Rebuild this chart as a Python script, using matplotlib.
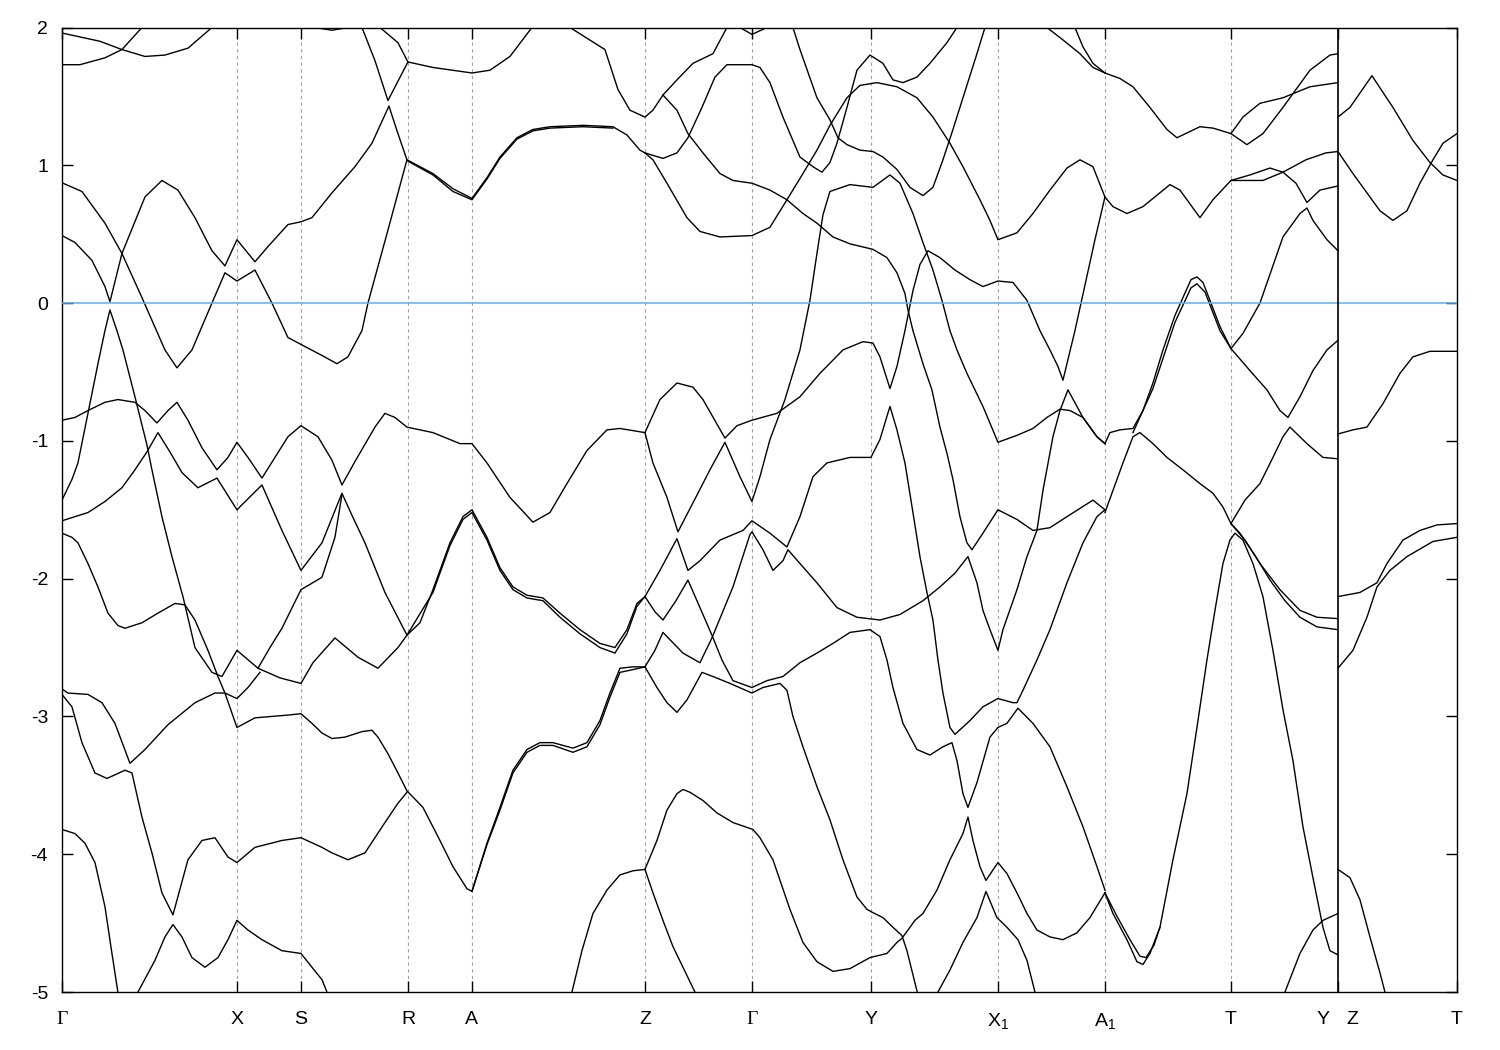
import matplotlib
matplotlib.use('Agg')
import matplotlib.pyplot as plt

plt.rcParams['font.family'] = ['Liberation Sans', 'DejaVu Sans']
plt.rcParams['mathtext.fontset'] = 'custom'
plt.rcParams['mathtext.rm'] = 'Liberation Sans'
plt.rcParams['mathtext.it'] = 'Liberation Sans'

# high-symmetry points along the k-path (arbitrary path length units)
kpoints = [0.0, 1.75, 2.39, 3.46, 4.10, 5.83, 6.90, 8.09, 9.36, 10.43, 11.69, 12.76, 13.95]
klabels = ['Γ', 'X', 'S', 'R', 'A', 'Z', 'Γ', 'Y', 'X$_1$', 'A$_1$', 'T', '', 'T']
k_break = 12.76          # Y | Z discontinuity
e_fermi = 0.0
e_range = (-5, 2)

# bands as (k, E) pairs, E in eV
band_01 = [(0, 1.96), (0.38, 1.90), (0.60, 1.84), (0.83, 1.79), (1.03, 1.80), (1.26, 1.85), (1.50, 2.0)]
band_02 = [(0, 1.73), (0.18, 1.73), (0.43, 1.78), (0.60, 1.84), (0.80, 2.0)]
band_03 = [(0.01, 0.87), (0.20, 0.81), (0.43, 0.58), (0.60, 0.36), (0.80, 0.04), (1.03, -0.34), (1.15, -0.47),
           (1.30, -0.34), (1.50, 0.0), (1.63, 0.22), (1.75, 0.16), (1.93, 0.24), (2.10, 0.0), (2.26, -0.25),
           (2.39, -0.30), (2.60, -0.38), (2.75, -0.44), (2.86, -0.39), (3.00, -0.20), (3.06, 0.0), (3.26, 0.53),
           (3.45, 1.04), (3.71, 0.94), (3.91, 0.83), (4.10, 0.76), (4.25, 0.91), (4.38, 1.06), (4.55, 1.20),
           (4.71, 1.26), (4.88, 1.28), (5.21, 1.29), (5.51, 1.28), (5.65, 1.22), (5.78, 1.11), (5.83, 1.09),
           (6.01, 1.05), (6.15, 1.09), (6.26, 1.20), (6.40, 1.42), (6.53, 1.64), (6.65, 1.73), (6.90, 1.73),
           (6.98, 1.71), (7.08, 1.60), (7.21, 1.35), (7.38, 1.06), (7.51, 0.99), (7.60, 0.95), (7.68, 1.02),
           (7.75, 1.16), (7.85, 1.42), (7.95, 1.69), (8.08, 1.80), (8.21, 1.74), (8.31, 1.62), (8.41, 1.60),
           (8.55, 1.64), (8.68, 1.74), (8.85, 1.89), (8.95, 2.0)]
band_04 = [(0, 0.49), (0.13, 0.44), (0.30, 0.31), (0.43, 0.12), (0.48, 0.01), (0.60, 0.36), (0.83, 0.77),
           (1.00, 0.89), (1.16, 0.82), (1.33, 0.62), (1.50, 0.38), (1.63, 0.27), (1.75, 0.46), (1.93, 0.30),
           (2.06, 0.41), (2.26, 0.57), (2.39, 0.59), (2.50, 0.62), (2.70, 0.80), (2.93, 0.99), (3.10, 1.16),
           (3.27, 1.43), (3.36, 1.23), (3.45, 1.04)]
band_05 = [(3.00, 2.0), (3.13, 1.76), (3.26, 1.47), (3.46, 1.75), (3.71, 1.71), (4.10, 1.67), (4.28, 1.69),
           (4.48, 1.79), (4.70, 2.0)]
band_06 = [(3.18, 2.0), (3.36, 1.89), (3.46, 1.75)]
band_07 = [(2.53, 2.0), (2.70, 1.98), (2.86, 2.0)]
band_08 = [(6.78, 2.0), (6.90, 1.95), (7.05, 2.0)]
band_09 = [(0, -1.43), (0.10, -1.28), (0.16, -1.16), (0.26, -0.80), (0.36, -0.44), (0.43, -0.20), (0.48, -0.05),
           (0.55, -0.20), (0.61, -0.34), (0.73, -0.68), (0.85, -1.03), (0.90, -1.21), (1.00, -1.55), (1.10, -1.84),
           (1.21, -2.13), (1.33, -2.50), (1.50, -2.68), (1.60, -2.71), (1.75, -2.52), (1.96, -2.65), (2.18, -2.72),
           (2.39, -2.76), (2.51, -2.61), (2.73, -2.43), (2.96, -2.57), (3.16, -2.65), (3.36, -2.50), (3.45, -2.41),
           (3.58, -2.32), (3.71, -2.08), (3.88, -1.74), (4.01, -1.55), (4.10, -1.50), (4.25, -1.70), (4.38, -1.92),
           (4.51, -2.06), (4.65, -2.12), (4.81, -2.14), (4.98, -2.25), (5.18, -2.37), (5.38, -2.47), (5.53, -2.50),
           (5.65, -2.37), (5.75, -2.18), (5.83, -2.13)]
band_10 = [(0, -0.85), (0.13, -0.83), (0.26, -0.78), (0.43, -0.72), (0.56, -0.70), (0.73, -0.72), (0.83, -0.78),
           (0.95, -0.87), (1.06, -0.78), (1.15, -0.72), (1.26, -0.85), (1.40, -1.05), (1.55, -1.21), (1.66, -1.12),
           (1.75, -1.01), (1.86, -1.12), (2.00, -1.27), (2.13, -1.12), (2.26, -0.97), (2.39, -0.89), (2.56, -0.97),
           (2.70, -1.14), (2.80, -1.32), (2.93, -1.15), (3.13, -0.90), (3.23, -0.80), (3.33, -0.83), (3.45, -0.90),
           (3.71, -0.94), (3.98, -1.02), (4.10, -1.02), (4.25, -1.16), (4.48, -1.41), (4.71, -1.59), (4.88, -1.52),
           (5.05, -1.31), (5.25, -1.07), (5.45, -0.92), (5.58, -0.91), (5.83, -0.94)]
band_11 = [(0, -1.58), (0.26, -1.52), (0.43, -1.44), (0.60, -1.34), (0.73, -1.21), (0.85, -1.08), (0.96, -0.94),
           (1.08, -1.08), (1.20, -1.23), (1.36, -1.34), (1.55, -1.27), (1.75, -1.50), (2.00, -1.32), (2.20, -1.65),
           (2.39, -1.94), (2.60, -1.74), (2.80, -1.38), (2.90, -1.54), (3.03, -1.74), (3.23, -2.10), (3.45, -2.41)]
band_12 = [(1.96, -2.65), (2.08, -2.50), (2.20, -2.36), (2.39, -2.08), (2.60, -1.99), (2.73, -1.70), (2.80, -1.39)]
band_13 = [(0, -1.67), (0.10, -1.70), (0.16, -1.74), (0.26, -1.89), (0.36, -2.06), (0.46, -2.25), (0.56, -2.34),
           (0.63, -2.36), (0.80, -2.32), (0.96, -2.25), (1.13, -2.18), (1.23, -2.19), (1.33, -2.30), (1.46, -2.52),
           (1.56, -2.71), (1.63, -2.83), (1.75, -3.08), (1.93, -3.01), (2.26, -2.99), (2.39, -2.98), (2.50, -3.05),
           (2.60, -3.12), (2.70, -3.16), (2.83, -3.15), (3.00, -3.11), (3.10, -3.10), (3.16, -3.15), (3.26, -3.27),
           (3.36, -3.41), (3.45, -3.54), (3.61, -3.66), (3.78, -3.90), (3.91, -4.09), (4.05, -4.25), (4.10, -4.27),
           (4.25, -3.92), (4.38, -3.66), (4.51, -3.39), (4.65, -3.24), (4.78, -3.19), (4.91, -3.19), (5.11, -3.23),
           (5.25, -3.19), (5.38, -3.03), (5.48, -2.83), (5.58, -2.65), (5.71, -2.64), (5.83, -2.64)]
band_14 = [(0, -2.80), (0.06, -2.83), (0.26, -2.84), (0.40, -2.90), (0.53, -3.05), (0.68, -3.34), (0.83, -3.24),
           (1.06, -3.06), (1.33, -2.90), (1.53, -2.83), (1.63, -2.83), (1.75, -2.87), (1.86, -2.79), (1.98, -2.68)]
band_15 = [(0, -2.84), (0.10, -2.93), (0.20, -3.19), (0.33, -3.41), (0.45, -3.45), (0.63, -3.39), (0.70, -3.41),
           (0.80, -3.73), (0.90, -3.99), (1.00, -4.28), (1.11, -4.44), (1.26, -4.04), (1.40, -3.90), (1.53, -3.88),
           (1.66, -4.02), (1.75, -4.06), (1.93, -3.95), (2.20, -3.90), (2.39, -3.88), (2.60, -3.95), (2.70, -3.99),
           (2.86, -4.04), (3.03, -3.99), (3.23, -3.77), (3.36, -3.63), (3.45, -3.55)]
band_16 = [(0, -3.82), (0.13, -3.85), (0.23, -3.92), (0.33, -4.06), (0.43, -4.38), (0.50, -4.72), (0.57, -5.05)]
band_17 = [(0.76, -5.0), (0.93, -4.77), (1.03, -4.60), (1.11, -4.51), (1.20, -4.60), (1.30, -4.75), (1.43, -4.82),
           (1.56, -4.75), (1.66, -4.62), (1.75, -4.48), (1.86, -4.55), (2.00, -4.62), (2.20, -4.70), (2.39, -4.72),
           (2.50, -4.82), (2.60, -4.91), (2.65, -5.0)]
band_18 = [(5.08, 2.0), (5.43, 1.84), (5.56, 1.55), (5.68, 1.40), (5.83, 1.35), (5.91, 1.40), (6.01, 1.51),
           (6.15, 1.62), (6.31, 1.74), (6.51, 1.81), (6.65, 2.0)]
band_19 = [(6.01, 1.51), (6.15, 1.40), (6.26, 1.23), (6.41, 1.09), (6.58, 0.94), (6.71, 0.89), (6.90, 0.87),
           (7.08, 0.82), (7.25, 0.75), (7.41, 0.65), (7.55, 0.58), (7.71, 0.48), (7.88, 0.43), (8.11, 0.39),
           (8.25, 0.33), (8.35, 0.22), (8.43, 0.07), (8.46, -0.05), (8.51, -0.20), (8.61, -0.44), (8.70, -0.63),
           (8.78, -0.90), (8.85, -1.09), (8.91, -1.28), (8.98, -1.55), (9.05, -1.74), (9.10, -1.79), (9.21, -1.67),
           (9.36, -1.50), (9.55, -1.57), (9.71, -1.65), (9.88, -1.63), (10.05, -1.55), (10.31, -1.43), (10.43, -1.50)]
band_20 = [(5.83, 1.09), (5.91, 1.04), (6.05, 0.87), (6.25, 0.62), (6.38, 0.52), (6.58, 0.48), (6.90, 0.49),
           (7.08, 0.55), (7.25, 0.75), (7.41, 0.94), (7.55, 1.11), (7.68, 1.29), (7.85, 1.49), (7.98, 1.58),
           (8.15, 1.60), (8.35, 1.57), (8.55, 1.49), (8.71, 1.35), (8.88, 1.16), (9.01, 0.99), (9.18, 0.75),
           (9.28, 0.60), (9.36, 0.46), (9.55, 0.51), (9.71, 0.65), (9.88, 0.82), (10.05, 0.98), (10.18, 1.04),
           (10.31, 0.99), (10.43, 0.77), (10.51, 0.70), (10.65, 0.65), (10.81, 0.70), (11.08, 0.86), (11.18, 0.82),
           (11.38, 0.62), (11.51, 0.75), (11.69, 0.89), (11.88, 0.93), (12.08, 0.98), (12.21, 0.95), (12.34, 0.87),
           (12.45, 0.73), (12.58, 0.82), (12.76, 0.85)]
band_21 = [(11.69, 0.89), (11.85, 0.89), (12.01, 0.89), (12.21, 0.95), (12.44, 1.04), (12.64, 1.09), (12.76, 1.10)]
band_22 = [(5.83, -0.94), (5.98, -0.70), (6.15, -0.58), (6.31, -0.61), (6.41, -0.70), (6.63, -0.98), (6.75, -0.89),
           (6.90, -0.85), (7.15, -0.80), (7.38, -0.68), (7.58, -0.51), (7.81, -0.34), (8.01, -0.28), (8.11, -0.29),
           (8.18, -0.39), (8.28, -0.62), (8.35, -0.46), (8.43, -0.20), (8.51, 0.09), (8.58, 0.28), (8.66, 0.38),
           (8.78, 0.33), (8.93, 0.24), (9.08, 0.17), (9.21, 0.12), (9.36, 0.16), (9.51, 0.15), (9.65, 0.02),
           (9.78, -0.20), (9.88, -0.34), (9.96, -0.46), (10.01, -0.56), (10.06, -0.41), (10.13, -0.20),
           (10.23, 0.13), (10.33, 0.46), (10.43, 0.77)]
band_23 = [(5.83, -0.94), (5.91, -1.16), (6.05, -1.41), (6.16, -1.66), (6.31, -1.45), (6.48, -1.21), (6.63, -1.01),
           (6.78, -1.26), (6.90, -1.44), (6.98, -1.26), (7.08, -0.99), (7.23, -0.70), (7.38, -0.34), (7.48, 0.02),
           (7.55, 0.36), (7.61, 0.64), (7.68, 0.81), (7.88, 0.86), (8.11, 0.84), (8.28, 0.93), (8.38, 0.87),
           (8.51, 0.65), (8.61, 0.44), (8.71, 0.24), (8.80, 0.02), (8.88, -0.20), (8.95, -0.34), (9.05, -0.51),
           (9.21, -0.75), (9.36, -1.01), (9.55, -0.96), (9.71, -0.91), (9.85, -0.83), (9.98, -0.77), (10.08, -0.78),
           (10.21, -0.83), (10.35, -0.97), (10.43, -1.02)]
band_24 = [(5.83, -2.13), (5.98, -1.94), (6.15, -1.71), (6.26, -1.94), (6.38, -1.87), (6.58, -1.72), (6.81, -1.65),
           (6.90, -1.58), (7.08, -1.67), (7.25, -1.77), (7.38, -1.55), (7.51, -1.26), (7.65, -1.16), (7.88, -1.12),
           (8.09, -1.12), (8.18, -0.99), (8.28, -0.75), (8.35, -0.92), (8.43, -1.16), (8.51, -1.52), (8.58, -1.84),
           (8.65, -2.10), (8.71, -2.30), (8.76, -2.59), (8.81, -2.83), (8.88, -3.08), (8.93, -3.13), (9.08, -3.03),
           (9.21, -2.93), (9.36, -2.87), (9.51, -2.90), (9.55, -2.90), (9.61, -2.81), (9.75, -2.59), (9.88, -2.37),
           (10.05, -2.03), (10.21, -1.74), (10.35, -1.55), (10.43, -1.50)]
band_25 = [(5.83, -2.64), (5.93, -2.52), (6.01, -2.39), (6.21, -2.54), (6.38, -2.61), (6.50, -2.43), (6.71, -2.06),
           (6.88, -1.68), (6.90, -1.66), (7.01, -1.79), (7.11, -1.94), (7.21, -1.87), (7.26, -1.79), (7.38, -1.89),
           (7.55, -2.03), (7.75, -2.21), (7.95, -2.28), (8.18, -2.30), (8.38, -2.26), (8.61, -2.16), (8.78, -2.06),
           (8.93, -1.96), (9.06, -1.84), (9.15, -2.03), (9.21, -2.23), (9.28, -2.37), (9.36, -2.52), (9.41, -2.37),
           (9.55, -2.08), (9.65, -1.84), (9.75, -1.65), (9.81, -1.36), (9.91, -0.97), (9.98, -0.78), (10.06, -0.63),
           (10.21, -0.83), (10.35, -0.97), (10.43, -1.02)]
band_26 = [(5.83, -2.13), (5.93, -2.24), (6.01, -2.30), (6.14, -2.16), (6.26, -2.01), (6.38, -2.21), (6.50, -2.41),
           (6.60, -2.59), (6.71, -2.74), (6.90, -2.79), (7.05, -2.74), (7.21, -2.71), (7.38, -2.61), (7.55, -2.54),
           (7.71, -2.47), (7.88, -2.39), (8.08, -2.37), (8.18, -2.42), (8.25, -2.59), (8.31, -2.79), (8.41, -3.05),
           (8.55, -3.24), (8.68, -3.28), (8.81, -3.22), (8.90, -3.19), (8.95, -3.32), (9.01, -3.56), (9.06, -3.66),
           (9.15, -3.48), (9.28, -3.15), (9.36, -3.08), (9.45, -3.05), (9.56, -2.94), (9.71, -3.05), (9.88, -3.22),
           (10.05, -3.51), (10.21, -3.80), (10.35, -4.09), (10.43, -4.26)]
band_27 = [(5.83, -2.64), (5.95, -2.79), (6.05, -2.90), (6.15, -2.97), (6.25, -2.88), (6.40, -2.68), (6.51, -2.71),
           (6.68, -2.76), (6.90, -2.83), (7.01, -2.79), (7.18, -2.76), (7.25, -2.81), (7.31, -3.00), (7.41, -3.22),
           (7.55, -3.51), (7.68, -3.75), (7.81, -4.04), (7.95, -4.31), (8.05, -4.40), (8.10, -4.42), (8.21, -4.46),
           (8.31, -4.53), (8.40, -4.59), (8.45, -4.70), (8.57, -5.05)]
band_28 = [(5.10, -5.0), (5.20, -4.70), (5.31, -4.43), (5.45, -4.26), (5.58, -4.15), (5.71, -4.12), (5.83, -4.11),
           (5.91, -4.28), (6.01, -4.48), (6.11, -4.67), (6.21, -4.82), (6.33, -5.0)]
band_29 = [(5.83, -4.11), (5.95, -3.90), (6.05, -3.68), (6.15, -3.56), (6.21, -3.53), (6.28, -3.55), (6.41, -3.61),
           (6.55, -3.70), (6.71, -3.77), (6.91, -3.82), (6.98, -3.88), (7.11, -4.04), (7.28, -4.40), (7.41, -4.64),
           (7.55, -4.78), (7.71, -4.85), (7.88, -4.83), (8.08, -4.75), (8.25, -4.72), (8.35, -4.64), (8.40, -4.61),
           (8.53, -4.48), (8.61, -4.43), (8.75, -4.26), (8.88, -4.04), (9.01, -3.85), (9.06, -3.73), (9.11, -3.90),
           (9.18, -4.09), (9.24, -4.19), (9.36, -4.06), (9.45, -4.14), (9.55, -4.28), (9.65, -4.43), (9.75, -4.55),
           (9.88, -4.60), (10.01, -4.62), (10.15, -4.57), (10.28, -4.46), (10.43, -4.28)]
band_30 = [(8.76, -5.0), (8.88, -4.84), (9.01, -4.64), (9.15, -4.46), (9.24, -4.27), (9.35, -4.46), (9.45, -4.53),
           (9.56, -4.62), (9.65, -4.77), (9.73, -5.0)]
band_31 = [(10.43, -4.28), (10.51, -4.43), (10.65, -4.62), (10.75, -4.78), (10.81, -4.80), (10.88, -4.72),
           (10.98, -4.53), (11.11, -4.04), (11.25, -3.56), (11.35, -3.08), (11.45, -2.59), (11.53, -2.23),
           (11.61, -1.89), (11.68, -1.72), (11.73, -1.67), (11.81, -1.72), (11.91, -1.89), (12.01, -2.13),
           (12.11, -2.52), (12.21, -2.95), (12.31, -3.32), (12.41, -3.80), (12.51, -4.17), (12.61, -4.53),
           (12.68, -4.70), (12.76, -4.73)]
band_32 = [(12.23, -5.0), (12.38, -4.72), (12.51, -4.55), (12.61, -4.48), (12.76, -4.43)]
band_33 = [(9.85, 2.0), (10.01, 1.91), (10.18, 1.81), (10.31, 1.71), (10.43, 1.67), (10.58, 1.63), (10.71, 1.57),
           (10.88, 1.42), (11.05, 1.26), (11.15, 1.20), (11.38, 1.28), (11.51, 1.27), (11.69, 1.23), (11.81, 1.35),
           (11.98, 1.45), (12.21, 1.49), (12.48, 1.57), (12.76, 1.60)]
band_34 = [(10.13, 2.0), (10.21, 1.86), (10.31, 1.74), (10.43, 1.67)]
band_35 = [(11.69, 1.23), (11.85, 1.15), (12.01, 1.23), (12.21, 1.42), (12.48, 1.69), (12.68, 1.80), (12.76, 1.81)]
band_36 = [(7.31, 2.0), (7.38, 1.84), (7.55, 1.49), (7.68, 1.33), (7.76, 1.20), (7.85, 1.15), (7.98, 1.11),
           (8.11, 1.10), (8.21, 1.06), (8.35, 0.97), (8.48, 0.84), (8.61, 0.78), (8.71, 0.84), (8.81, 1.04),
           (8.91, 1.26), (9.01, 1.49), (9.15, 1.81), (9.23, 2.0)]
band_37 = [(10.43, -1.52), (10.51, -1.36), (10.61, -1.16), (10.71, -0.97), (10.78, -0.94), (10.91, -1.02),
           (11.05, -1.12), (11.21, -1.21), (11.38, -1.31), (11.51, -1.38), (11.61, -1.48), (11.69, -1.60),
           (11.83, -1.72), (11.98, -1.89), (12.18, -2.08), (12.38, -2.23), (12.55, -2.28), (12.76, -2.29)]
band_38 = [(11.69, -1.60), (11.78, -1.67), (11.93, -1.83), (12.08, -2.01), (12.23, -2.16), (12.38, -2.28),
           (12.55, -2.35), (12.76, -2.37)]
band_39 = [(11.69, -1.60), (11.83, -1.43), (11.98, -1.31), (12.11, -1.12), (12.21, -0.97), (12.28, -0.90),
           (12.45, -1.02), (12.61, -1.12), (12.76, -1.13)]
band_40 = [(11.69, -0.33), (11.88, -0.49), (12.05, -0.63), (12.18, -0.78), (12.26, -0.83), (12.38, -0.68),
           (12.51, -0.49), (12.65, -0.34), (12.76, -0.27)]
band_41 = [(11.69, -0.33), (11.81, -0.22), (11.98, 0.0), (12.21, 0.48), (12.38, 0.65), (12.45, 0.69), (12.51, 0.60),
           (12.65, 0.46), (12.76, 0.38)]
band_42 = [(10.43, -1.02), (10.48, -0.94), (10.58, -0.92), (10.71, -0.91), (10.81, -0.78), (10.91, -0.58),
           (11.01, -0.34), (11.13, -0.09), (11.21, 0.04), (11.29, 0.17), (11.35, 0.19), (11.41, 0.15), (11.48, 0.02),
           (11.58, -0.17), (11.69, -0.33)]
band_43 = [(10.71, -0.94), (10.91, -0.62), (11.13, -0.14), (11.29, 0.11), (11.35, 0.14), (11.43, 0.08),
           (11.58, -0.20), (11.69, -0.33)]
# nearly degenerate partners (drawn as double lines in the original)
band_44 = [(3.46, 1.03), (3.71, 0.93), (3.91, 0.81), (4.10, 0.75), (4.25, 0.90), (4.38, 1.05), (4.55, 1.19),
           (4.71, 1.25), (4.88, 1.27), (5.21, 1.28), (5.51, 1.27)]
band_45 = [(3.45, -2.41), (3.71, -2.10), (3.88, -1.76), (4.01, -1.57), (4.10, -1.52), (4.25, -1.72), (4.38, -1.94),
           (4.51, -2.08), (4.65, -2.14), (4.81, -2.16), (4.98, -2.28), (5.18, -2.40), (5.38, -2.50), (5.53, -2.54),
           (5.65, -2.40), (5.75, -2.20), (5.83, -2.13)]
band_46 = [(4.10, -4.27), (4.25, -3.93), (4.38, -3.68), (4.51, -3.41), (4.65, -3.26), (4.78, -3.21), (4.91, -3.21),
           (5.11, -3.26), (5.25, -3.22), (5.38, -3.06), (5.48, -2.86), (5.58, -2.68), (5.71, -2.66), (5.83, -2.64)]
band_47 = [(10.43, -4.28), (10.55, -4.45), (10.68, -4.62), (10.78, -4.74), (10.84, -4.75), (10.92, -4.66),
           (10.98, -4.53)]
# Z - T panel
band_48 = [(12.76, 1.35), (12.88, 1.42), (13.10, 1.65), (13.31, 1.42), (13.51, 1.18), (13.68, 1.02), (13.81, 0.93),
           (13.95, 0.89)]
band_49 = [(12.76, 1.10), (12.91, 0.94), (13.05, 0.80), (13.18, 0.67), (13.31, 0.60), (13.45, 0.67), (13.58, 0.87),
           (13.71, 1.04), (13.81, 1.16), (13.95, 1.23)]
band_50 = [(12.76, -0.95), (12.91, -0.92), (13.05, -0.90), (13.21, -0.73), (13.38, -0.51), (13.51, -0.39),
           (13.68, -0.35), (13.95, -0.35)]
band_51 = [(12.76, -2.13), (12.98, -2.10), (13.15, -2.03), (13.25, -1.89), (13.41, -1.72), (13.58, -1.65),
           (13.75, -1.61), (13.95, -1.60)]
band_52 = [(12.76, -2.65), (12.91, -2.52), (13.05, -2.28), (13.15, -2.06), (13.28, -1.94), (13.45, -1.84),
           (13.71, -1.73), (13.95, -1.70)]
band_53 = [(12.76, -4.11), (12.88, -4.17), (12.98, -4.33), (13.08, -4.60), (13.18, -4.86), (13.23, -5.0)]

bands = [band_01, band_02, band_03, band_04, band_05, band_06, band_07, band_08, band_09, band_10,
         band_11, band_12, band_13, band_14, band_15, band_16, band_17, band_18, band_19, band_20,
         band_21, band_22, band_23, band_24, band_25, band_26, band_27, band_28, band_29, band_30,
         band_31, band_32, band_33, band_34, band_35, band_36, band_37, band_38, band_39, band_40,
         band_41, band_42, band_43, band_44, band_45, band_46, band_47, band_48, band_49, band_50,
         band_51, band_52, band_53]

fig = plt.figure(figsize=(15, 10.5), dpi=100)
ax = fig.add_axes([0.0413, 0.0552, 0.93, 0.9186])

# dashed guides at the high-symmetry points
for k in kpoints[1:-1]:
    if k == k_break:
        ax.axvline(k, color='black', lw=1.2, zorder=4)
    else:
        ax.axvline(k, color='#a0a0a0', lw=0.8, ls=(0, (3, 3)), zorder=1)

for band in bands:
    ks = [p[0] for p in band]
    es = [p[1] for p in band]
    ax.plot(ks, es, color='black', lw=1.0, solid_joinstyle='round', zorder=2)

ax.axhline(e_fermi, color='#56b4e9', lw=1.1, zorder=3)

ax.set_xlim(kpoints[0], kpoints[-1])
ax.set_ylim(*e_range)
ax.set_yticks(range(e_range[0], e_range[1] + 1))
ax.set_yticklabels([str(v) for v in range(e_range[0], e_range[1] + 1)])
ax.set_xticks(kpoints)
ax.set_xticklabels(klabels)
for lab in ax.get_xticklabels():
    if lab.get_text() == 'Γ':
        lab.set_fontfamily(['Liberation Serif', 'DejaVu Serif'])

ax.tick_params(axis='both', direction='in', length=8, width=1.0, labelsize=14,
               top=True, right=True)
ax.tick_params(axis='x', pad=14)
ax.tick_params(axis='y', pad=10)

trans = ax.get_xaxis_transform()
ax.text(k_break - 0.15, -0.0201, 'Y', transform=trans, ha='center', va='top', fontsize=14)
ax.text(k_break + 0.14, -0.0201, 'Z', transform=trans, ha='center', va='top', fontsize=14)

for sp in ax.spines.values():
    sp.set_linewidth(1.0)

fig.savefig('out.png', dpi=100)
